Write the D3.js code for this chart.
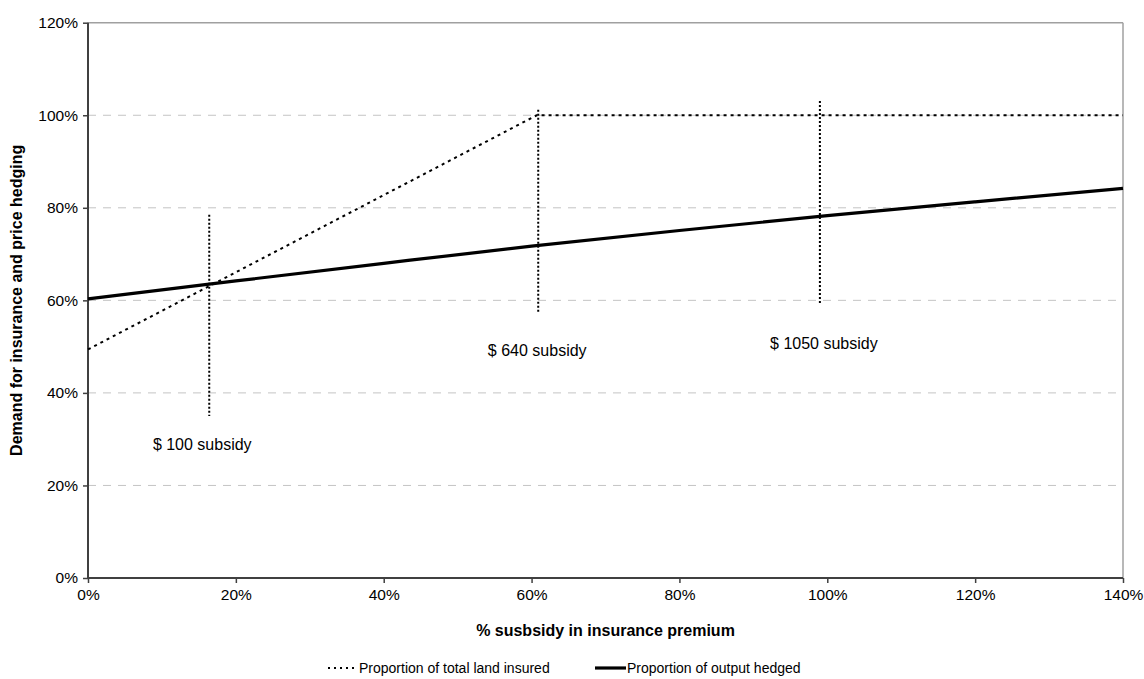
<!DOCTYPE html>
<html><head><meta charset="utf-8">
<script src="https://cdn.jsdelivr.net/npm/d3@7"></script>
<style>body{margin:0;background:#fff;} text{font-family:"Liberation Sans",Arial,sans-serif;fill:#000;}</style>
</head><body><svg id="c" width="1144" height="679"></svg>
<script>
// Data
const xTicks = [0,20,40,60,80,100,120,140];
const yTicks = [0,20,40,60,80,100,120];
const outputHedgedX = [0,20,40,60,80,100,120,140];
const outputHedgedY = [60.3,64.2,68.0,71.7,75.1,78.3,81.3,84.2];
const landInsuredX = [0,60.7,140];
const landInsuredY = [49.4,100,100];
const subsidyX = [16.4,60.9,99.0];
const subsidyTop = [78.5,101.2,103.1];
const subsidyBottom = [35.0,57.1,59.0];
const subsidyLabels = ["$ 100 subsidy","$ 640 subsidy","$ 1050 subsidy"];
const subsidyLabelY = [27.6,48.0,49.5];
const legendLabels = ["Proportion of total land insured","Proportion of output hedged"];

const W=1144,H=679, m={l:88,r:21,t:22.7,b:101};
const svg=d3.select("#c");
const x=d3.scaleLinear().domain([0,140]).range([m.l,W-m.r]);
const y=d3.scaleLinear().domain([0,120]).range([H-m.b,m.t]);

// gridlines
svg.append("g").selectAll("line").data(yTicks.filter(d=>d>0&&d<120)).join("line")
  .attr("x1",x(0)).attr("x2",x(140)).attr("y1",d=>y(d)).attr("y2",d=>y(d))
  .attr("stroke","#c4c4c4").attr("stroke-width",1).attr("stroke-dasharray","8,7");
// top & right border
svg.append("line").attr("x1",x(0)).attr("x2",x(140)).attr("y1",y(120)).attr("y2",y(120)).attr("stroke","#a0a0a0").attr("stroke-width",1.5);
svg.append("line").attr("x1",x(140)).attr("x2",x(140)).attr("y1",y(120)).attr("y2",y(0)).attr("stroke","#a0a0a0").attr("stroke-width",1.5);

// axes
const yAxis=d3.axisLeft(y).tickValues(yTicks).tickFormat(d=>d+"%").tickSize(5).tickPadding(5);
const gy=svg.append("g").attr("transform",`translate(${x(0)},0)`).call(yAxis);
const xAxis=d3.axisBottom(x).tickValues(xTicks).tickFormat(d=>d+"%").tickSize(5).tickPadding(6);
const gx=svg.append("g").attr("transform",`translate(0,${y(0)})`).call(xAxis);
[gx,gy].forEach(g=>{
  g.select(".domain").attr("stroke","#404040").attr("stroke-width",2);
  g.selectAll(".tick line").attr("stroke","#404040").attr("stroke-width",1.5);
  g.selectAll(".tick text").attr("font-size",15.5).attr("font-family","Liberation Sans, Arial, sans-serif").attr("fill","#000");
});
gx.select(".domain").attr("d",`M${x(0)},0H${x(140)}`);
gy.select(".domain").attr("d",`M0,${y(0)}V${y(120)}`);

// subsidy vertical dotted lines
svg.append("g").selectAll("line").data(subsidyX).join("line")
  .attr("x1",d=>x(d)).attr("x2",d=>x(d))
  .attr("y1",(d,i)=>y(subsidyTop[i])).attr("y2",(d,i)=>y(subsidyBottom[i]))
  .attr("stroke","#000").attr("stroke-width",2).attr("stroke-dasharray","2,2");

// land insured dotted
const landPts=landInsuredX.map((d,i)=>[d,landInsuredY[i]]);
svg.append("path").datum(landPts)
  .attr("d",d3.line().x(d=>x(d[0])).y(d=>y(d[1])))
  .attr("fill","none").attr("stroke","#000").attr("stroke-width",2).attr("stroke-dasharray","3,4");

// output hedged solid
const hedgePts=outputHedgedX.map((d,i)=>[d,outputHedgedY[i]]);
svg.append("path").datum(hedgePts)
  .attr("d",d3.line().curve(d3.curveMonotoneX).x(d=>x(d[0])).y(d=>y(d[1])))
  .attr("fill","none").attr("stroke","#000").attr("stroke-width",3.2);

// subsidy labels
svg.append("g").selectAll("text").data(subsidyLabels).join("text")
  .attr("x",(d,i)=>x(subsidyX[i])+(i===2?4:(i===1?-1:-7)))
  .attr("y",(d,i)=>y(subsidyLabelY[i]))
  .attr("text-anchor","middle").attr("font-size",16).text(d=>d);

// axis titles
svg.append("text").attr("x",(x(0)+x(140))/2).attr("y",636).attr("text-anchor","middle")
  .attr("font-size",16).attr("font-weight","bold").text("% susbsidy in insurance premium");
svg.append("text").attr("transform",`translate(22,${(y(0)+y(120))/2}) rotate(-90)`).attr("text-anchor","middle")
  .attr("font-size",16).attr("font-weight","bold").text("Demand for insurance and price hedging");

// legend
const lg=svg.append("g");
lg.append("line").attr("x1",328).attr("x2",356).attr("y1",668).attr("y2",668).attr("stroke","#000").attr("stroke-width",2).attr("stroke-dasharray","2,4");
lg.append("text").attr("x",359).attr("y",673).attr("font-size",14).text(legendLabels[0]);
lg.append("line").attr("x1",595).attr("x2",626).attr("y1",668).attr("y2",668).attr("stroke","#000").attr("stroke-width",3.2);
lg.append("text").attr("x",627).attr("y",673).attr("font-size",14).text(legendLabels[1]);
</script></body></html>
